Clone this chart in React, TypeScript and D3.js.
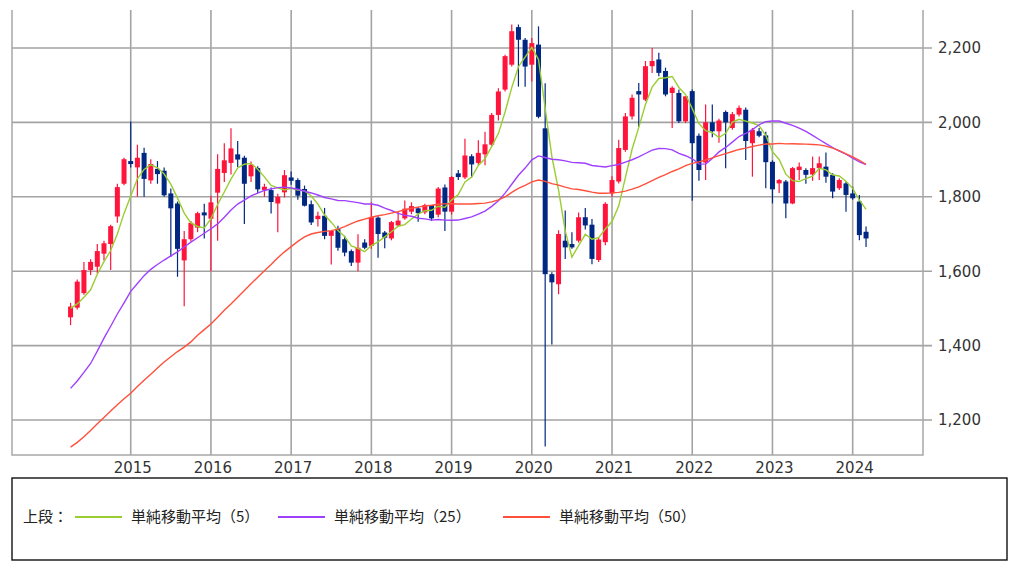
import React from 'react';
import * as d3 from 'd3';

// Monthly candles, Apr 2014 .. Mar 2024 (index 0 = Apr 2014, index 9 = Jan 2015)
const opens = [
  1476, 1502, 1541, 1603, 1612, 1647, 1673, 1747, 1835,
  1896, 1879, 1918, 1844, 1875, 1870, 1809, 1782, 1629, 1686, 1717, 1758,
  1741, 1811, 1864, 1891, 1914, 1905, 1855, 1877, 1818, 1818, 1782, 1812,
  1852, 1845, 1821, 1780, 1740, 1749, 1695, 1713, 1686, 1654, 1623, 1677,
  1668, 1744, 1704, 1688, 1723, 1742, 1760, 1769, 1758, 1778, 1752, 1825,
  1760, 1863, 1852, 1909, 1891, 1914, 1940, 2020, 2088, 2155, 2256, 2222,
  2155, 2209, 1984, 1592, 1565, 1682, 1673, 1682, 1745, 1725, 1630, 1678,
  1809, 1841, 1926, 2016, 2084, 2061, 2151, 2169, 2138, 2079, 2079, 2003,
  2084, 1964, 1892, 2000, 1976, 2028, 1985, 2021, 2034, 1944, 1976, 1965,
  1894, 1836, 1841, 1782, 1872, 1872, 1860, 1877, 1881, 1859, 1823, 1836,
  1809, 1787, 1706,
];
const highs = [
  1515, 1578, 1625, 1632, 1673, 1682, 1725, 1835, 1905,
  2002, 1940, 1932, 1901, 1896, 1879, 1822, 1787, 1708, 1735, 1760, 1781,
  1803, 1914, 1944, 1984, 1950, 1910, 1895, 1882, 1835, 1825, 1808, 1872,
  1868, 1850, 1830, 1790, 1760, 1770, 1708, 1722, 1695, 1658, 1699, 1686,
  1785, 1748, 1708, 1735, 1760, 1790, 1785, 1773, 1781, 1778, 1826, 1833,
  1856, 1872, 1956, 1914, 1952, 1975, 2025, 2092, 2182, 2263, 2263, 2227,
  2227, 2258, 2105, 1597, 1710, 1763, 1705, 1758, 1770, 1740, 1692, 1785,
  1855, 1953, 2025, 2075, 2106, 2165, 2200, 2187, 2147, 2097, 2088, 2070,
  2088, 1970, 2048, 2048, 2010, 2032, 2028, 2045, 2040, 1985, 1985, 1975,
  1898, 1848, 1845, 1880, 1892, 1877, 1908, 1908, 1919, 1863, 1850, 1841,
  1827, 1805, 1720,
];
const lows = [
  1455, 1497, 1537, 1590, 1594, 1629, 1603, 1730, 1831,
  1879, 1800, 1800, 1835, 1835, 1800, 1638, 1585, 1506, 1680, 1705, 1688,
  1600, 1682, 1840, 1860, 1880, 1727, 1840, 1810, 1800, 1755, 1705, 1798,
  1832, 1792, 1774, 1724, 1720, 1686, 1618, 1655, 1640, 1614, 1600, 1659,
  1660, 1636, 1662, 1683, 1720, 1738, 1753, 1733, 1753, 1735, 1745, 1708,
  1752, 1845, 1848, 1852, 1885, 1885, 1935, 2005, 2083, 2150, 2096, 2096,
  2110, 2011, 1129, 1403, 1538, 1633, 1660, 1677, 1712, 1619, 1625, 1670,
  1800, 1836, 1921, 2008, 1988, 2057, 2133, 2124, 2070, 1985, 1998, 1998,
  1789, 1843, 1845, 1960, 1945, 1877, 1980, 2016, 1899, 1854, 1960, 1823,
  1782, 1810, 1742, 1780, 1845, 1835, 1843, 1845, 1838, 1796, 1818, 1760,
  1792, 1683, 1665,
];
const closes = [
  1505, 1572, 1603, 1625, 1654, 1675, 1721, 1826, 1901,
  1888, 1905, 1848, 1888, 1861, 1804, 1769, 1660, 1686, 1730, 1756, 1750,
  1785, 1875, 1898, 1930, 1900, 1835, 1886, 1820, 1827, 1786, 1800, 1858,
  1843, 1803, 1776, 1731, 1749, 1695, 1708, 1663, 1650, 1623, 1663, 1663,
  1746, 1700, 1690, 1732, 1736, 1768, 1775, 1756, 1778, 1742, 1822, 1760,
  1853, 1853, 1911, 1887, 1918, 1941, 2020, 2083, 2178, 2245, 2222, 2150,
  2213, 2015, 1592, 1570, 1700, 1664, 1664, 1745, 1723, 1633, 1685, 1781,
  1845, 1931, 2016, 2066, 2075, 2151, 2165, 2133, 2075, 2093, 2003, 2070,
  1944, 1872, 2000, 1976, 2005, 2000, 2022, 2039, 1950, 1980, 1964, 1893,
  1820, 1845, 1782, 1877, 1881, 1859, 1877, 1890, 1854, 1814, 1845, 1805,
  1796, 1697, 1688,
];

// Moving-average values before a full window of shown candles exists
const ma5Head = [1500, 1512, 1530, 1550];
const ma25Head = [
  1285, 1305, 1328, 1352, 1385, 1420, 1452, 1485, 1515, 1546, 1567, 1588,
  1605, 1618, 1630, 1641, 1652, 1665, 1678, 1690, 1702, 1714, 1727, 1745,
];
const ma50Head = [
  1127, 1140, 1155, 1172, 1190, 1207, 1224, 1241, 1257, 1272, 1290, 1307,
  1323, 1340, 1356, 1370, 1384, 1396, 1410, 1428, 1443, 1458, 1476, 1495,
  1512, 1530, 1548, 1566, 1584, 1601, 1618, 1636, 1652, 1666, 1680, 1692,
  1700, 1704, 1707, 1709, 1713, 1720, 1728, 1735, 1740, 1745, 1749, 1752, 1756,
];

const yearLabels = ['2015', '2016', '2017', '2018', '2019', '2020', '2021', '2022', '2023', '2024'];
const firstJanIndex = 9;
const yTickValues = [1200, 1400, 1600, 1800, 2000, 2200];

const legendTitle = '上段：';
const maPeriods = [5, 25, 50];
const maLabels = ['単純移動平均（5）', '単純移動平均（25）', '単純移動平均（50）'];
const maColors = ['#9acd32', '#a040ff', '#ff503c'];
const maHeads = [ma5Head, ma25Head, ma50Head];

const UP = '#ff143c';
const DOWN = '#002882';

function movingAverage(period: number, head: number[]) {
  return closes.map((c, i) =>
    i < period - 1 ? head[i] : (d3.mean(closes.slice(i - period + 1, i + 1)) as number)
  );
}

export default function App() {
  const left = 12, right = 923, top = 10, bottom = 455;
  const x = d3.scaleLinear().domain([-8.76, 127.52]).range([left, right]);
  const y = d3.scaleLinear().domain([1106, 2302]).range([bottom, top]);
  const bodyW = 5;
  const grid = '#a3a3a3';
  const maSeries = maPeriods.map((p, k) => movingAverage(p, maHeads[k]));
  const line = d3
    .line<number>()
    .x((_, i) => x(i))
    .y((d) => y(d));

  const legendX = [75, 278, 503];
  const cjk = "'Noto Sans CJK JP', sans-serif";

  return (
    <svg
      width={1024}
      height={580}
      style={{ position: 'absolute', left: 0, top: 0, background: '#fff' }}
      fontFamily="'DejaVu Sans', sans-serif"
    >
      <rect x={0} y={0} width={1024} height={580} fill="#fff" />
      {/* horizontal grid */}
      {yTickValues.map((v) => (
        <g key={v}>
          <line x1={left} x2={right + 9} y1={y(v)} y2={y(v)} stroke={grid} strokeWidth={1.6} />
          <text x={938} y={y(v)} dy="0.36em" fontSize={15} fill="#333">
            {d3.format(',')(v)}
          </text>
        </g>
      ))}
      {/* vertical grid */}
      {yearLabels.map((lab, k) => {
        const xi = x(firstJanIndex + k * 12);
        return (
          <g key={lab}>
            <line x1={xi} x2={xi} y1={top} y2={bottom} stroke={grid} strokeWidth={1.6} />
            <text x={xi + 2} y={bottom + 18} textAnchor="middle" fontSize={15} fill="#333">
              {lab}
            </text>
          </g>
        );
      })}
      {/* border */}
      <polyline
        points={`${left},${top} ${left},${bottom} ${right},${bottom} ${right},${top}`}
        fill="none"
        stroke="#a8a8a8"
        strokeWidth={1.5}
      />
      {/* candles */}
      {closes.map((c, i) => {
        const o = opens[i];
        const up = c >= o;
        const col = up ? UP : DOWN;
        const cx = x(i);
        const y0 = y(Math.max(o, c));
        const y1 = y(Math.min(o, c));
        return (
          <g key={i}>
            <line x1={cx} x2={cx} y1={y(highs[i])} y2={y(lows[i])} stroke={col} strokeWidth={1.2} />
            <rect x={cx - bodyW / 2} y={y0} width={bodyW} height={Math.max(1.5, y1 - y0)} fill={col} />
          </g>
        );
      })}
      {/* moving averages */}
      {maSeries.map((s, k) => (
        <path key={k} d={line(s) || ''} fill="none" stroke={maColors[k]} strokeWidth={1.4} />
      ))}
      {/* legend */}
      <rect x={12} y={478} width={995} height={82} fill="none" stroke="#111" strokeWidth={1.4} />
      <text x={23} y={517} dy="0.36em" fontSize={15} fill="#222" fontFamily={cjk}>
        {legendTitle}
      </text>
      {maLabels.map((lab, k) => (
        <g key={lab}>
          <line x1={legendX[k]} x2={legendX[k] + 47} y1={517} y2={517} stroke={maColors[k]} strokeWidth={2} />
          <text x={legendX[k] + 56} y={517} dy="0.36em" fontSize={15} fill="#222" fontFamily={cjk}>
            {lab}
          </text>
        </g>
      ))}
    </svg>
  );
}
